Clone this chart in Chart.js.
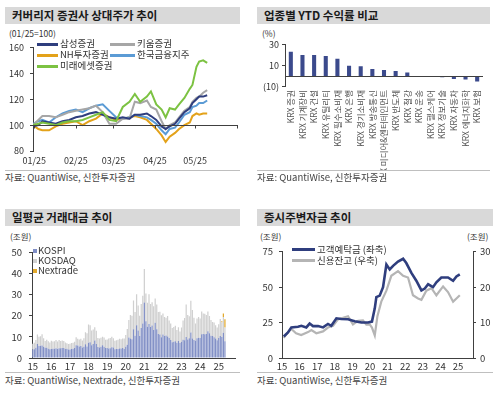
<!DOCTYPE html>
<html>
<head>
<meta charset="utf-8">
<script src="https://cdn.jsdelivr.net/npm/chart.js@4.4.0/dist/chart.umd.min.js"></script>
<style>
  html, body { margin: 0; padding: 0; background: #fff; }
  body { width: 500px; height: 398px; position: relative; overflow: hidden;
         font-family: 'Noto Sans CJK KR', sans-serif; color: #333; }
  .title { position: absolute; height: 17px; background: #d9d9d9; font-weight: bold;
           font-size: 11.5px; line-height: 17px; padding-left: 7px; color: #1a1a1a; box-sizing: border-box; }
  .unit { position: absolute; font-size: 8.5px; color: #333; line-height: 1; }
  .sep { position: absolute; height: 1px; background: #bfbfbf; }
  .src { position: absolute; font-size: 9.5px; color: #444; line-height: 1; }
  .lline { position: absolute; height: 3px; }
  .ltext { position: absolute; font-size: 9.5px; line-height: 1; transform: translateY(-50%); color: #333; }
  .lbox { position: absolute; width: 4px; height: 4px; }
  canvas { position: absolute; }
</style>
</head>
<body>

<!-- panel 1 -->
<div class="title" style="left:5px;top:7px;width:235px;">커버리지 증권사 상대주가 추이</div>
<div class="unit" style="left:9px;top:29px;">(01/25=100)</div>
<canvas id="relChart" width="245" height="132" style="left:0;top:36px;"></canvas>
<div class="lline" style="left:37px;top:43px;width:21px;background:#2f3e7e;"></div>
<div class="ltext" style="left:60px;top:44px;">삼성증권</div>
<div class="lline" style="left:110px;top:43px;width:25px;background:#a6a6a6;"></div>
<div class="ltext" style="left:137px;top:44px;">키움증권</div>
<div class="lline" style="left:37px;top:54px;width:21px;background:#e3a21a;"></div>
<div class="ltext" style="left:60px;top:55px;">NH투자증권</div>
<div class="lline" style="left:110px;top:54px;width:25px;background:#5b9bd5;"></div>
<div class="ltext" style="left:137px;top:55px;">한국금융지주</div>
<div class="lline" style="left:37px;top:65px;width:21px;background:#7cc242;"></div>
<div class="ltext" style="left:60px;top:66px;">미래에셋증권</div>
<div class="sep" style="left:5px;top:170px;width:235px;"></div>
<div class="src" style="left:5px;top:173px;">자료: QuantiWise, 신한투자증권</div>

<!-- panel 2 -->
<div class="title" style="left:257px;top:7px;width:233px;">업종별 YTD 수익률 비교</div>
<div class="unit" style="left:262px;top:29px;">(%)</div>
<canvas id="ytdChart" width="245" height="135" style="left:250px;top:36px;"></canvas>
<div class="sep" style="left:257px;top:170px;width:233px;"></div>
<div class="src" style="left:257px;top:173px;">자료: QuantiWise, 신한투자증권</div>

<!-- panel 3 -->
<div class="title" style="left:5px;top:209px;width:235px;">일평균 거래대금 추이</div>
<div class="unit" style="left:10px;top:232px;">(조원)</div>
<canvas id="tradeChart" width="245" height="132" style="left:0;top:240px;"></canvas>
<div class="lbox" style="left:33px;top:249px;background:#7f8ec6;"></div>
<div class="ltext" style="left:38px;top:251px;">KOSPI</div>
<div class="lbox" style="left:33px;top:259px;background:#d0d0d0;"></div>
<div class="ltext" style="left:38px;top:261px;">KOSDAQ</div>
<div class="lbox" style="left:33px;top:269px;background:#e3a92b;"></div>
<div class="ltext" style="left:38px;top:271px;">Nextrade</div>
<div class="sep" style="left:5px;top:372px;width:235px;"></div>
<div class="src" style="left:5px;top:376px;">자료: QuantiWise, Nextrade, 신한투자증권</div>

<!-- panel 4 -->
<div class="title" style="left:257px;top:209px;width:236px;">증시주변자금 추이</div>
<div class="unit" style="left:260px;top:232px;">(조원)</div>
<div class="unit" style="left:467px;top:232px;">(조원)</div>
<canvas id="fundChart" width="250" height="132" style="left:250px;top:240px;"></canvas>
<div class="lline" style="left:292px;top:248px;width:23px;background:#2f3e7e;"></div>
<div class="ltext" style="left:317px;top:250px;">고객예탁금 (좌축)</div>
<div class="lline" style="left:292px;top:259px;width:23px;background:#b5b5b5;"></div>
<div class="ltext" style="left:317px;top:261px;">신용잔고 (우축)</div>
<div class="sep" style="left:257px;top:372px;width:236px;"></div>
<div class="src" style="left:257px;top:376px;">자료: QuantiWise, 신한투자증권</div>

<script>
// ---- panel 1: relative share price (days since 2025-01-01)
const relDays = [-1, 3, 6, 11, 16, 21, 26, 31, 36, 41, 46, 51, 56, 61, 66, 71, 75, 79, 84, 87, 91, 95, 98, 101, 105, 108, 112, 116, 118, 121, 123, 126, 129];
const samsung = [99, 100, 103, 102, 101, 103, 104, 106, 107, 109, 110, 108, 106, 105, 106, 105, 108, 108, 109, 107, 104, 99, 97, 99, 101, 105, 110, 113, 117, 120, 122, 122, 123];
const kiwoom = [100, 104, 107, 107, 106, 108, 110, 111, 112, 113, 115, 110, 101, 101, 105, 105, 118, 117, 119, 114, 112, 103, 97, 100, 102, 106, 111, 114, 118, 121, 122, 125, 127];
const nhInv = [100, 97, 96, 96, 99, 101, 102, 103, 100, 103, 105, 109, 106, 104, 105, 106, 107, 106, 104, 101, 97, 92, 87, 91, 94, 97, 100, 102, 107, 109, 108, 109, 109];
const koreaInv = [101, 103, 104, 102, 106, 109, 111, 112, 110, 113, 115, 116, 111, 106, 105, 106, 108, 107, 106, 104, 101, 96, 93, 97, 98, 102, 108, 110, 114, 115, 117, 117, 119];
const mirae = [100, 101, 102, 101, 100, 102, 103, 103, 104, 106, 108, 110, 104, 103, 114, 118, 124, 118, 122, 126, 116, 112, 106, 113, 112, 116, 121, 128, 131, 145, 149, 150, 148];
const monthTicks = [0, 31, 59, 90, 120];
const monthLabels = ['01/25', '02/25', '03/25', '04/25', '05/25'];

// ---- panel 2: sector YTD return (%)
const sectors = ['KRX 증권', 'KRX 기계장비', 'KRX 건설', 'KRX 유틸리티', 'KRX 필수소비재', 'KRX 은행', 'KRX 경기소비재', 'KRX 방송통신', 'KRX 미디어&엔터테인먼트', 'KRX 반도체', 'KRX 철강', 'KRX 운송', 'KRX 헬스케어', 'KRX 정보기술', 'KRX 자동차', 'KRX 에너지화학', 'KRX 보험'];
const ytdReturn = [23, 20, 20, 19, 16.5, 10, 9.5, 7, 6, 5, 3.7, -0.3, -0.5, -0.8, -2.5, -3, -4.8];

// ---- panel 3: daily avg trading value, monthly, Jan 2015 - May 2025 (조원)
const years = ['15', '16', '17', '18', '19', '20', '21', '22', '23', '24', '25'];
const kospi = [
  4.0, 4.1, 4.9, 6.6, 5.7, 5.8, 5.9, 5.4, 4.9, 4.9, 4.4, 4.1,
  4.3, 4.4, 4.4, 4.6, 4.3, 4.6, 4.6, 4.8, 4.8, 4.3, 4.4, 4.0,
  4.0, 4.3, 4.4, 4.8, 6.1, 5.9, 5.5, 5.7, 5.0, 5.4, 6.5, 5.5,
  7.3, 7.5, 6.1, 6.7, 8.3, 6.7, 5.2, 5.0, 5.3, 6.0, 5.3, 4.8,
  4.8, 4.5, 4.6, 5.1, 5.0, 4.2, 4.3, 4.3, 4.5, 4.5, 4.7, 4.3,
  5.3, 6.3, 9.7, 9.2, 8.9, 13.6, 10.6, 15.6, 13.0, 10.5, 14.3, 16.4,
  26.4, 17.5, 14.8, 16.1, 14.7, 15.4, 13.3, 16.7, 13.7, 11.4, 11.1, 9.8,
  11.1, 10.5, 10.7, 10.2, 9.5, 8.6, 7.5, 7.7, 8.0, 7.3, 8.1, 7.1,
  7.7, 8.7, 8.4, 10.0, 8.8, 9.4, 12.1, 9.3, 8.5, 8.2, 9.4, 9.6,
  9.5, 11.3, 11.4, 11.3, 11.4, 12.7, 11.7, 10.6, 10.4, 9.8, 9.3, 8.4,
  9.5, 10.5, 10.0, 12.0, 8.0
];
const kosdaq = [
  2.8, 3.1, 3.6, 4.5, 4.4, 4.5, 5.4, 4.0, 3.2, 3.8, 3.5, 3.3,
  3.9, 3.4, 3.6, 3.9, 3.5, 3.9, 3.5, 3.5, 3.3, 3.1, 2.6, 2.6,
  2.8, 2.8, 2.8, 2.9, 3.8, 3.2, 3.3, 3.4, 3.3, 4.0, 5.7, 6.3,
  8.6, 8.0, 7.0, 6.8, 6.3, 6.2, 4.3, 4.2, 4.3, 4.1, 4.4, 3.9,
  4.0, 4.8, 4.9, 5.0, 4.4, 4.0, 4.1, 4.4, 4.6, 4.4, 4.5, 4.9,
  5.6, 7.5, 8.4, 11.2, 11.2, 13.7, 11.2, 14.7, 11.9, 9.6, 11.3, 13.2,
  15.9, 13.1, 11.4, 14.2, 10.9, 11.1, 11.3, 11.5, 11.7, 10.4, 10.9, 10.5,
  10.0, 9.0, 8.4, 9.7, 8.3, 7.8, 6.8, 7.0, 7.3, 6.0, 6.5, 5.5,
  6.8, 9.1, 10.6, 15.4, 11.6, 10.4, 15.1, 13.5, 10.6, 8.2, 9.4, 9.9,
  9.3, 10.8, 9.7, 9.7, 9.0, 9.4, 8.2, 7.4, 6.7, 7.0, 6.2, 6.1,
  6.5, 8.0, 7.0, 7.5, 6.5
];
const nextrade = [0.5, 1.6, 3.9];   // Mar - May 2025
const tradeMonths = 131;           // axis runs Jan 2015 - Nov 2025

// ---- panel 4: deposits (left) and margin loans (right), years since 2015
const depositT = [0.1, 0.34, 0.53, 0.91, 1.1, 1.38, 1.57, 1.76, 2.05, 2.33, 2.61, 2.8, 3.09, 3.37, 3.75, 4.13, 4.51, 4.89, 5.11, 5.27, 5.36, 5.55, 5.74, 5.93, 6.12, 6.31, 6.59, 6.88, 7.06, 7.35, 7.63, 7.92, 8.11, 8.3, 8.58, 8.77, 9.05, 9.43, 9.72, 9.91, 10.1];
const deposit = [15.2, 18, 21.6, 22, 22.7, 21.6, 24.3, 22.5, 22.5, 21.6, 24, 22.7, 28, 27.5, 27.3, 26, 25, 25, 25.7, 35, 43, 44, 50, 66, 62.5, 65, 68, 70, 67, 60, 54.5, 47.7, 49, 52, 50, 53.4, 56.8, 56.8, 54.5, 57.5, 59];
const creditT = [0.1, 0.34, 0.53, 0.8, 1.09, 1.48, 1.67, 1.95, 2.33, 2.61, 2.9, 3.18, 3.56, 3.75, 4.03, 4.32, 4.6, 4.79, 4.98, 5.11, 5.27, 5.42, 5.64, 5.93, 6.21, 6.59, 6.88, 7.16, 7.44, 7.73, 7.92, 8.2, 8.49, 8.77, 9.15, 9.43, 9.72, 9.91, 10.1];
const credit = [5.7, 7.3, 8.2, 7, 6.5, 7.3, 7.9, 7, 7.5, 8.6, 9.1, 10.9, 11.5, 11.8, 9.5, 10.5, 10.6, 9.4, 9.5, 8.6, 6.4, 11.8, 15.9, 19, 23.2, 24.5, 23.2, 22.7, 17.7, 16.8, 16.4, 19, 19.7, 17.7, 20.2, 18.6, 15.9, 16.8, 17.7];

const FONT = "'Noto Sans CJK KR', sans-serif";
const TXT = '#333';
const AXIS = '#404040';

// horizontal line where the category axis crosses the value axis
const baseLine = {
  id: 'baseLine',
  afterDatasetsDraw(chart, args, opts) {
    if (opts.value === undefined) return;
    const { ctx, chartArea, scales } = chart;
    const y = Math.round(scales.y.getPixelForValue(opts.value)) + 0.5;
    ctx.save();
    ctx.strokeStyle = AXIS;
    ctx.lineWidth = 1;
    ctx.beginPath();
    ctx.moveTo(chartArea.left, y);
    ctx.lineTo(chartArea.right, y);
    if (opts.ticks) {
      scales.x.ticks.forEach((t, i) => {
        const x = Math.round(scales.x.getPixelForTick(i)) + 0.5;
        ctx.moveTo(x, y);
        ctx.lineTo(x, y + 3);
      });
      ctx.moveTo(chartArea.right - 0.5, y);
      ctx.lineTo(chartArea.right - 0.5, y + 3);
    }
    ctx.stroke();
    ctx.restore();
  }
};

function valueAxis(opts) {
  return Object.assign({
    grid: { drawOnChartArea: false, drawTicks: true, tickLength: 3, color: AXIS },
    border: { color: AXIS }
  }, opts);
}

function lineSet(label, xs, ys, color, width) {
  return {
    label: label,
    data: xs.map((x, i) => ({ x: x, y: ys[i] })),
    borderColor: color,
    backgroundColor: color,
    borderWidth: width,
    pointRadius: 0,
    tension: 0
  };
}

const noGrid = { display: false, drawTicks: false };

const common = {
  responsive: false,
  animation: false,
  plugins: { legend: { display: false }, tooltip: { enabled: false } }
};

// ---- panel 1
new Chart(document.getElementById('relChart'), {
  type: 'line',
  data: {
    datasets: [
      lineSet('미래에셋증권', relDays, mirae, '#7cc242', 2),
      lineSet('삼성증권', relDays, samsung, '#2f3e7e', 2),
      lineSet('키움증권', relDays, kiwoom, '#a6a6a6', 2),
      lineSet('한국금융지주', relDays, koreaInv, '#5b9bd5', 2),
      lineSet('NH투자증권', relDays, nhInv, '#e3a21a', 2)
    ]
  },
  options: Object.assign({}, common, {
    layout: { padding: { top: 7, right: 7, left: 0, bottom: 0 } },
    plugins: Object.assign({}, common.plugins, { baseLine: { value: 100, ticks: true } }),
    scales: {
      x: {
        type: 'linear', min: -1, max: 152,
        grid: noGrid, border: { display: false },
        afterBuildTicks: s => { s.ticks = monthTicks.map(v => ({ value: v })); },
        afterFit: s => { s.height = 17; },
        ticks: { font: { family: FONT, size: 9 }, color: TXT, padding: 4, maxRotation: 0,
                 callback: v => monthLabels[monthTicks.indexOf(v)] }
      },
      y: valueAxis({ min: 80, max: 160, afterFit: s => { s.width = 33; },
        ticks: { font: { family: FONT, size: 9 }, color: TXT, padding: 6, stepSize: 20 } })
    }
  }),
  plugins: [baseLine]
});

// ---- panel 2
new Chart(document.getElementById('ytdChart'), {
  type: 'bar',
  data: {
    labels: sectors,
    datasets: [{ data: ytdReturn, backgroundColor: '#3b4a8c', categoryPercentage: 1, barPercentage: 0.35 }]
  },
  options: Object.assign({}, common, {
    layout: { padding: { top: 8, right: 12, left: 0, bottom: 0 } },
    plugins: Object.assign({}, common.plugins, { baseLine: { value: 0 } }),
    scales: {
      x: {
        grid: noGrid, border: { display: false },
        afterFit: s => { s.height = 84; },
        ticks: { font: { family: FONT, size: 8.5 }, color: '#555', padding: 3, autoSkip: false,
                 minRotation: 90, maxRotation: 90 }
      },
      y: valueAxis({ min: -10, max: 30, afterFit: s => { s.width = 35; },
        ticks: { font: { family: FONT, size: 9 }, color: TXT, padding: 3, stepSize: 10,
                 callback: v => v < 0 ? '(' + Math.abs(v) + ')' : v } })
    }
  }),
  plugins: [baseLine]
});

// ---- panel 3
const monthCats = [];
for (let i = 0; i < tradeMonths; i++) monthCats.push(i % 12 === 0 ? years[i / 12] : '');
const pad = arr => arr.concat(new Array(tradeMonths - arr.length).fill(null));
const nextradeFull = pad(new Array(kospi.length - nextrade.length).fill(null).concat(nextrade));

new Chart(document.getElementById('tradeChart'), {
  type: 'bar',
  data: {
    labels: monthCats,
    datasets: [
      { label: 'KOSPI', data: pad(kospi), backgroundColor: '#8290c6' },
      { label: 'KOSDAQ', data: pad(kosdaq), backgroundColor: '#d0d0d0' },
      { label: 'Nextrade', data: nextradeFull, backgroundColor: '#e3a92b' }
    ].map(d => Object.assign(d, { categoryPercentage: 1, barPercentage: 0.8 }))
  },
  options: Object.assign({}, common, {
    layout: { padding: { top: 9, right: 10, left: 0, bottom: 0 } },
    scales: {
      x: {
        stacked: true,
        grid: noGrid, border: { color: AXIS },
        afterFit: s => { s.height = 14; },
        ticks: { font: { family: FONT, size: 9.5 }, color: TXT, padding: 3, autoSkip: false, maxRotation: 0 }
      },
      y: valueAxis({ stacked: true, min: 0, max: 50, afterFit: s => { s.width = 32; },
        ticks: { font: { family: FONT, size: 9.5 }, color: TXT, padding: 7, stepSize: 10 } })
    }
  })
});

// ---- panel 4
new Chart(document.getElementById('fundChart'), {
  type: 'line',
  data: {
    datasets: [
      Object.assign(lineSet('고객예탁금 (좌축)', depositT, deposit, '#2f3e7e', 2.6), { yAxisID: 'y' }),
      Object.assign(lineSet('신용잔고 (우축)', creditT, credit, '#b5b5b5', 2.2), { yAxisID: 'y1' })
    ]
  },
  options: Object.assign({}, common, {
    layout: { padding: { top: 8, right: 0, left: 0, bottom: 0 } },
    scales: {
      x: {
        type: 'linear', min: 0, max: 10.85,
        grid: noGrid, border: { color: AXIS },
        afterBuildTicks: s => { s.ticks = years.map((y, i) => ({ value: i })); },
        afterFit: s => { s.height = 14; },
        ticks: { font: { family: FONT, size: 9.5 }, color: TXT, padding: 3, maxRotation: 0,
                 callback: v => years[v] }
      },
      y: valueAxis({ position: 'left', min: 0, max: 75, afterFit: s => { s.width = 32; },
        ticks: { font: { family: FONT, size: 9.5 }, color: TXT, padding: 6, stepSize: 25 } }),
      y1: valueAxis({ position: 'right', min: 0, max: 30, afterFit: s => { s.width = 27; },
        ticks: { font: { family: FONT, size: 9.5 }, color: TXT, padding: 4, stepSize: 10 } })
    }
  })
});
</script>
</body>
</html>
